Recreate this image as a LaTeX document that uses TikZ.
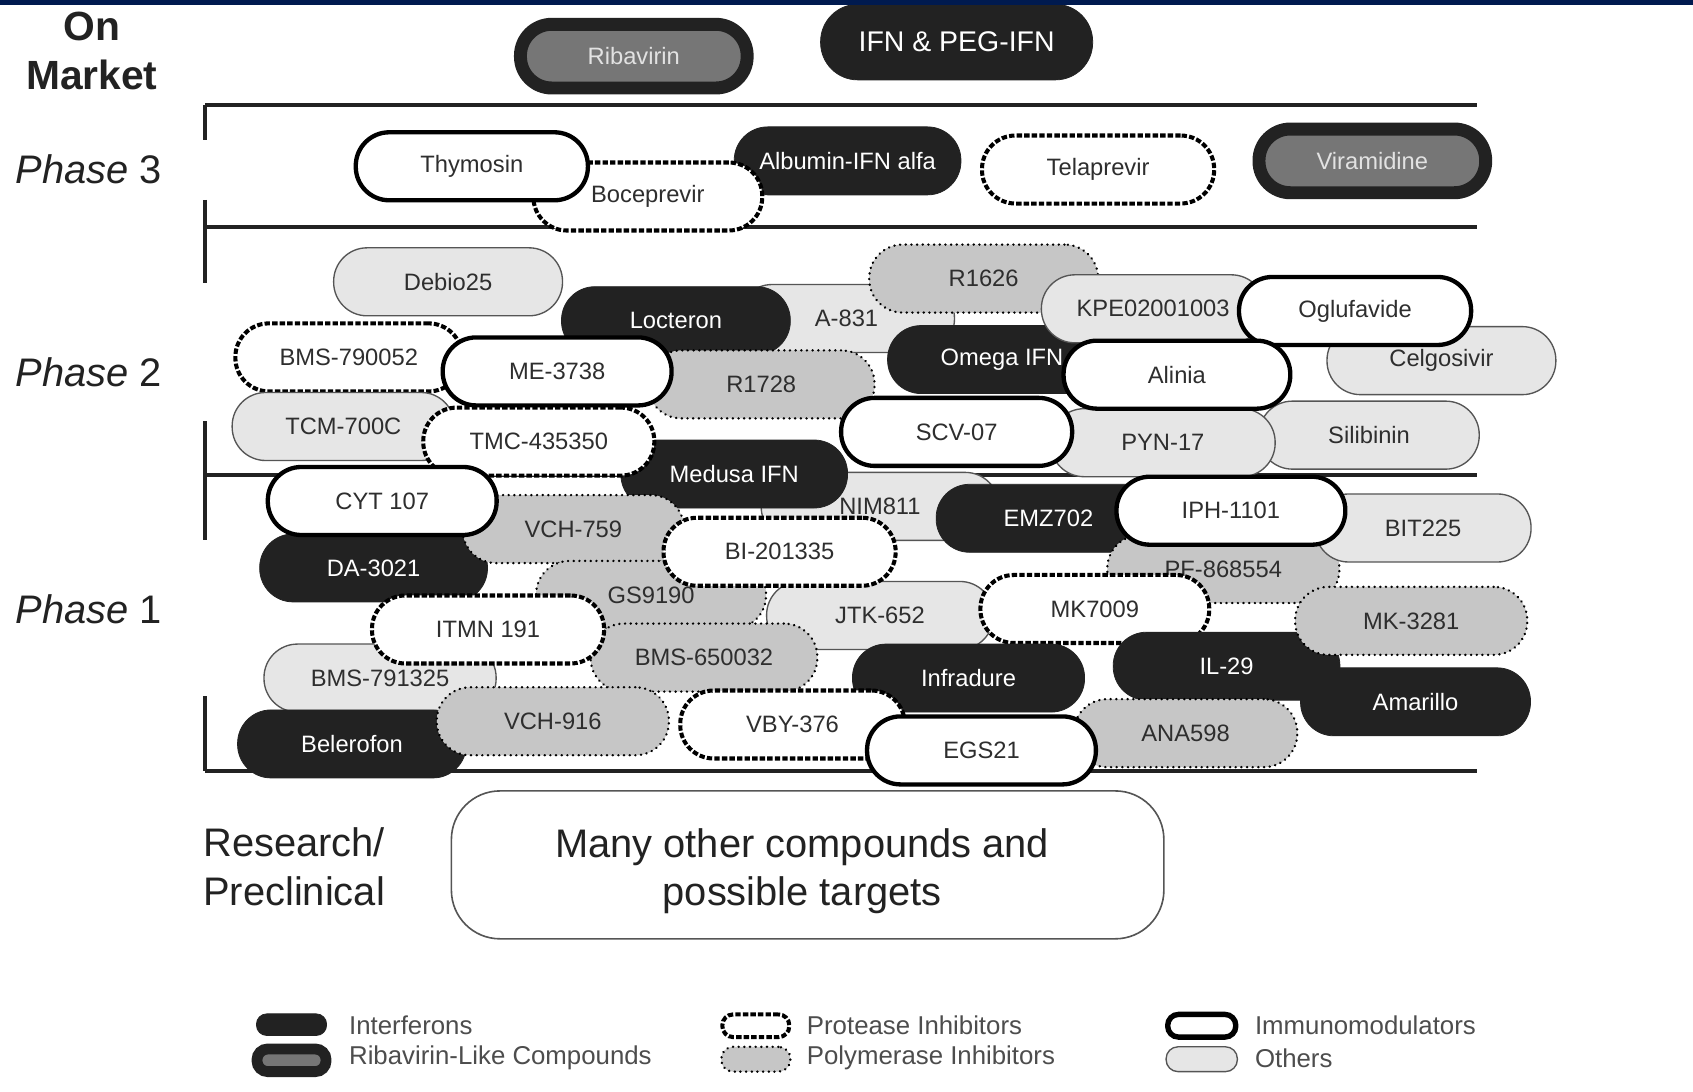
\documentclass[tikz,border=0pt]{standalone}
\usepackage{fontspec}
\setmainfont{Liberation Sans}
\definecolor{navy}{HTML}{001A4F}
\definecolor{ink}{HTML}{222222}
\definecolor{txt}{HTML}{2E2E2E}
\definecolor{ribgray}{HTML}{767676}
\definecolor{ribtxt}{HTML}{E2E2E2}
\definecolor{polgray}{HTML}{C6C6C6}
\definecolor{othgray}{HTML}{E6E6E6}
\definecolor{othline}{HTML}{555555}
\tikzset{
  wd/.style={minimum width=#1*0.02cm},
  pill/.style={rounded corners=0.62cm, minimum width=4.24cm, minimum height=1.26cm,
    inner sep=0pt, text=txt, font=\fontsize{12.5}{15}\selectfont},
  interferon/.style={pill, fill=ink, draw=ink, text=white},
  ribalike/.style={pill, draw=ink, fill=ribgray, text=ribtxt, line width=0.24cm,
    minimum width=4.2cm, minimum height=1.18cm, rounded corners=0.58cm},
  protease/.style={pill, fill=white, draw=black, line width=0.075cm, dash pattern=on 0.1cm off 0.04cm},
  polymerase/.style={pill, fill=polgray, draw=black, line width=0.045cm, line cap=round,
    dash pattern=on 0.005cm off 0.1cm},
  immuno/.style={pill, fill=white, draw=black, line width=0.08cm},
  other/.style={pill, fill=othgray, draw=othline, line width=0.025cm},
  stage/.style={line width=0.08cm, ink},
  biglabel/.style={inner sep=0pt, text=ink, font=\fontsize{21}{25.6}\selectfont},
  keytext/.style={anchor=west, inner sep=0pt, text=txt!85, font=\fontsize{13.6}{15}\selectfont}
}
\begin{document}
\begin{tikzpicture}[x=0.02cm,y=-0.02cm]
\fill[white] (0,0) rectangle (1568,1011);
\useasboundingbox (0,0) rectangle (1568,1011);
\draw[stage] (190,97) -- (1368,97);
\draw[stage] (190,210) -- (1368,210);
\draw[stage] (190,440) -- (1368,440);
\draw[stage] (190,714) -- (1368,714);
\draw[stage] (190,97) -- (190,130);
\draw[stage] (190,185) -- (190,262);
\draw[stage] (190,390) -- (190,500);
\draw[stage] (190,645) -- (190,714);
\node[biglabel, align=center, font=\fontsize{21.5}{25.6}\selectfont\bfseries] (onmarket) at (85,47) {On\\Market};
\node[biglabel, anchor=west] (phase3) at (14,157) {\textit{Phase} 3};
\node[biglabel, anchor=west] (phase2) at (14,345) {\textit{Phase} 2};
\node[biglabel, anchor=west] (phase1) at (14,564) {\textit{Phase} 1};
\node[biglabel, anchor=west, align=left] (research) at (188,803) {Research/\\Preclinical};

\node[ribalike] (ribavirin) at (587,52) {Ribavirin};
\node[interferon, wd=252, minimum height=1.4cm, rounded corners=0.69cm, font=\fontsize{15}{18}\selectfont] (ifn) at (886,39) {IFN \& PEG-IFN};

\node[interferon, wd=210] (albumin) at (785,149) {Albumin-IFN alfa};
\node[protease] (boceprevir) at (600,182) {Boceprevir};
\node[immuno, wd=215] (thymosin) at (437,154) {Thymosin};
\node[protease, wd=215] (telaprevir) at (1017,157) {Telaprevir};
\node[ribalike] (viramidine) at (1271,149) {Viramidine};

\node[other] (debio) at (415,261) {Debio25};
\node[other, wd=200] (acomp) at (784,295) {A-831};
\node[polymerase] (rsixteen) at (911,258) {R1626};
\node[interferon] (locteron) at (626,297) {Locteron};
\node[polymerase, wd=210] (rseventeen) at (705,356) {R1728};
\node[interferon] (omega) at (928,333) {Omega IFN};
\node[other, wd=207] (kpe) at (1068,286) {KPE02001003};
\node[other] (celgosivir) at (1335,334) {Celgosivir};
\node[immuno, wd=215] (oglufavide) at (1255,288) {Oglufavide};
\node[other, wd=204] (silibinin) at (1268,403) {Silibinin};
\node[other, wd=208] (pyn) at (1077,410) {PYN-17};
\node[immuno, wd=210] (alinia) at (1090,347) {Alinia};
\node[protease, wd=210] (bmsa) at (323,331) {BMS-790052};
\node[immuno] (me) at (516,344) {ME-3738};
\node[other, wd=206] (tcm) at (318,395) {TCM-700C};
\node[other, wd=220] (nim) at (815,469) {NIM811};
\node[interferon, wd=210] (medusa) at (680,439) {Medusa IFN};
\node[protease, wd=214] (tmc) at (499,409) {TMC-435350};
\node[immuno, wd=214] (scv) at (886,400) {SCV-07};

\node[interferon, wd=211] (da) at (346,526) {DA-3021};
\node[polymerase, wd=205] (vchb) at (531,490) {VCH-759};
\node[immuno] (cyt) at (354,464) {CYT 107};
\node[interferon, wd=208] (emz) at (971,480) {EMZ702};
\node[polymerase, wd=215] (pf) at (1133,527) {PF-868554};
\node[other, wd=200] (bit) at (1318,489) {BIT225};
\node[immuno] (iph) at (1140,473) {IPH-1101};
\node[other, wd=210] (jtk) at (815,570) {JTK-652};
\node[polymerase, wd=213] (gs) at (603,551) {GS9190};
\node[protease, wd=215] (bi) at (722,511) {BI-201335};
\node[protease] (mk) at (1014,564) {MK7009};
\node[polymerase, wd=210] (bmsb) at (652,609) {BMS-650032};
\node[other, wd=215] (bmsc) at (352,628) {BMS-791325};
\node[protease, wd=215] (itmn) at (452,583) {ITMN 191};
\node[interferon, wd=210] (il) at (1136,617) {IL-29};
\node[polymerase, wd=215] (mkb) at (1307,575) {MK-3281};
\node[interferon, wd=213] (amarillo) at (1311,650) {Amarillo};
\node[interferon, wd=215] (infradure) at (897,628) {Infradure};
\node[interferon] (belerofon) at (326,689) {Belerofon};
\node[polymerase, wd=215] (vchc) at (512,668) {VCH-916};
\node[protease, wd=208] (vby) at (734,671) {VBY-376};
\node[polymerase, wd=207] (ana) at (1098,679) {ANA598};
\node[immuno] (egs) at (909,695) {EGS21};

\node[draw=othline, line width=0.03cm, rounded corners=0.9cm, minimum width=13.2cm, minimum height=2.74cm] (many) at (748,801) {};
\node[biglabel, align=center] (manytext) at (743,807) {Many other compounds and\\possible targets};

\node[interferon, wd=65, minimum height=0.4cm, rounded corners=0.19cm] (keyifn) at (270,949) {};
\node[ribalike, wd=64, minimum height=0.42cm, rounded corners=0.2cm, line width=0.2cm] (keyriba) at (270,982) {};
\node[protease, wd=62, minimum height=0.42cm, rounded corners=0.2cm] (keyprot) at (700,950) {};
\node[polymerase, wd=64, minimum height=0.46cm, rounded corners=0.22cm] (keypoly) at (700,981) {};
\node[immuno, wd=63, minimum height=0.42cm, rounded corners=0.2cm, line width=0.1cm] (keyimm) at (1113,950) {};
\node[other, wd=66, minimum height=0.46cm, rounded corners=0.22cm] (keyoth) at (1113,981) {};
\node[keytext] (txtifn) at (323,950) {Interferons};
\node[keytext] (txtriba) at (323,980) {Ribavirin-Like Compounds};
\node[keytext] (txtprot) at (747,950) {Protease Inhibitors};
\node[keytext] (txtpoly) at (747,980) {Polymerase Inhibitors};
\node[keytext] (txtimm) at (1162,950) {Immunomodulators};
\node[keytext] (txtoth) at (1162,980) {Others};

\fill[navy] (0,0) rectangle (1568,4.6);
\end{tikzpicture}
\end{document}
